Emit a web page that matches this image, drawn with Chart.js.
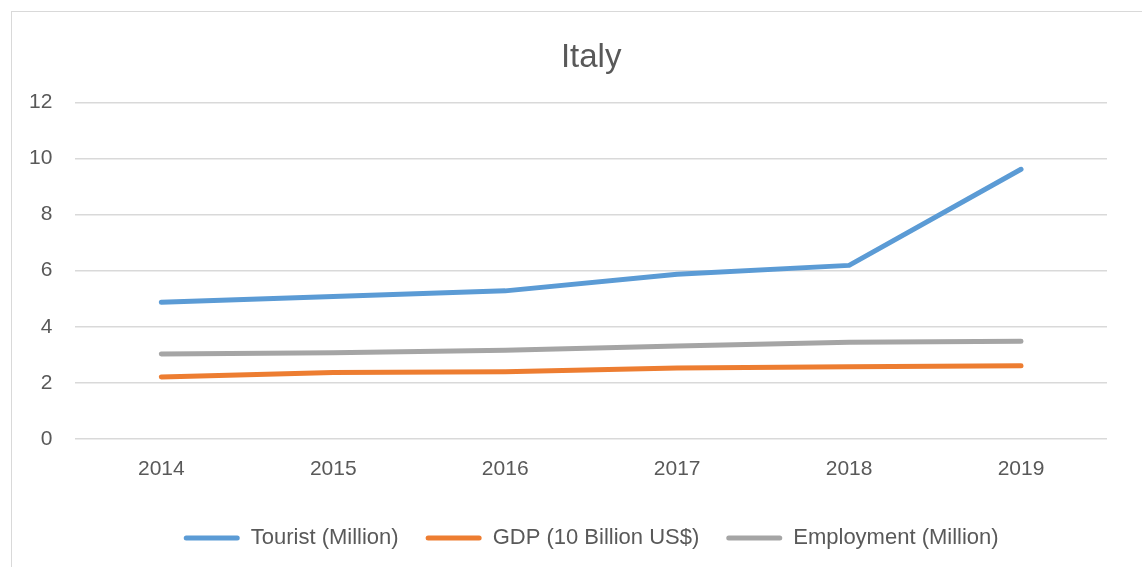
<!DOCTYPE html>
<html>
<head>
<meta charset="utf-8">
<script src="https://cdn.jsdelivr.net/npm/chart.js@4/dist/chart.umd.min.js"></script>
<style>
  html, body { margin: 0; padding: 0; background: #fff; overflow: hidden; }
  #frame { position: absolute; left: 11px; top: 11px; width: 1140px; height: 600px; border: 1px solid #d9d9d9; }
  #wrap { position: absolute; left: 0; top: 0; width: 1142px; height: 559px; }
</style>
</head>
<body>
<div id="frame"></div>
<div id="wrap"><canvas id="chart"></canvas></div>
<script>
const years = ["2014", "2015", "2016", "2017", "2018", "2019"];
const tourist = [4.87, 5.08, 5.28, 5.87, 6.19, 9.62];
const gdp = [2.21, 2.37, 2.39, 2.53, 2.57, 2.61];
const employment = [3.03, 3.07, 3.16, 3.31, 3.45, 3.48];

const FONT = "'Liberation Sans', Arial, sans-serif";
const TEXT = "#595959";

// ------------------- DATASETS -------------------
function line(label, data, color) {
  return {
    label: label,
    data: data,
    borderColor: color,
    backgroundColor: color,
    borderWidth: 5,
    borderCapStyle: "round",
    borderJoinStyle: "round",
    pointRadius: 0,
    pointHoverRadius: 0,
    tension: 0
  };
}

new Chart(document.getElementById("chart"), {
  type: "line",
  data: {
    labels: years,
    datasets: [
      line("Tourist (Million)", tourist, "#5b9bd5"),
      line("GDP (10 Billion US$)", gdp, "#ed7d31"),
      line("Employment (Million)", employment, "#a5a5a5")
    ]
  },
  options: {
    responsive: true,
    maintainAspectRatio: false,
    animation: false,
    layout: { padding: { top: 35, left: 6, right: 35, bottom: 0 } },
    plugins: {
      title: {
        display: true,
        fullSize: false,
        text: "Italy",
        color: TEXT,
        font: { family: FONT, size: 33, weight: "normal" },
        padding: { top: 3, bottom: 25 }
      },
      legend: {
        position: "bottom",
        fullSize: false,
        labels: {
          color: TEXT,
          font: { family: FONT, size: 22 },
          boxWidth: 56,
          boxHeight: 5,
          padding: 27,
          generateLabels: chart =>
            Chart.defaults.plugins.legend.labels.generateLabels(chart).map(l => ({
              ...l, lineWidth: 0, borderRadius: 2.5
            }))
        }
      },
      tooltip: { enabled: false }
    },
    scales: {
      x: {
        offset: true,
        grid: { display: false, drawTicks: false },
        border: { display: false },
        ticks: { color: TEXT, font: { family: FONT, size: 21 }, padding: 18, maxRotation: 0 }
      },
      y: {
        min: 0,
        max: 12,
        grid: { color: "#d9d9d9", lineWidth: 1.5, drawTicks: false },
        border: { display: false },
        ticks: { stepSize: 2, color: TEXT, font: { family: FONT, size: 21 }, padding: 23 }
      }
    }
  }
});
</script>
</body>
</html>
